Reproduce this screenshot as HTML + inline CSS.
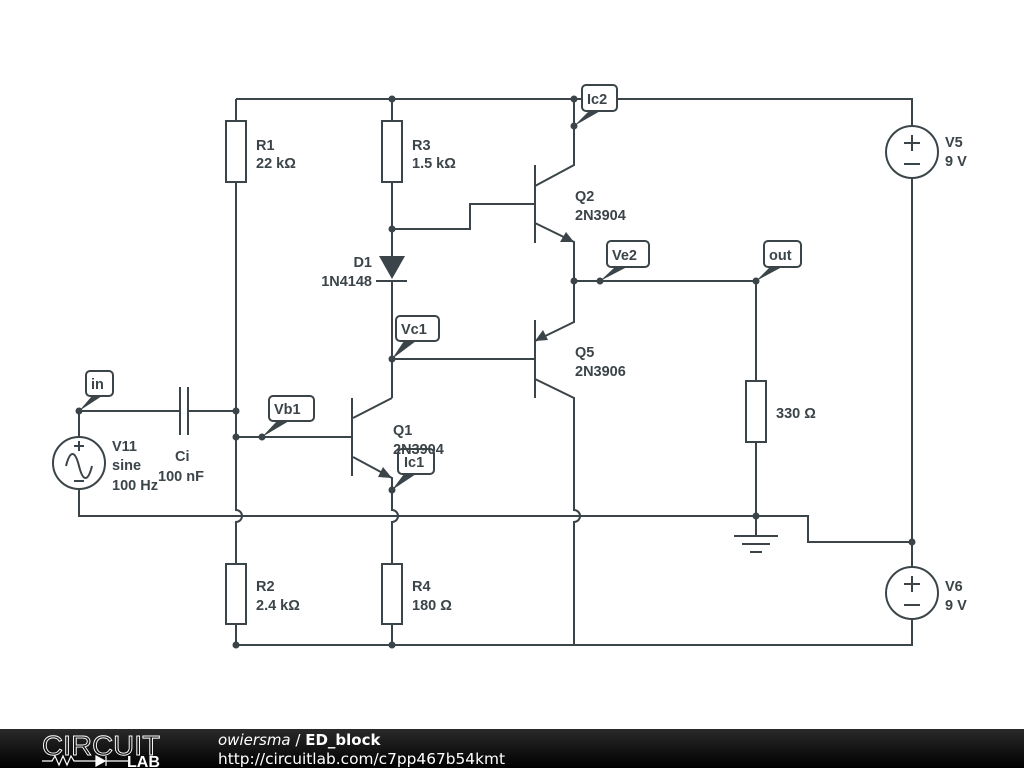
<!DOCTYPE html>
<html><head><meta charset="utf-8"><style>
body{margin:0;width:1024px;height:768px;background:#fff;overflow:hidden;font-family:"Liberation Sans",sans-serif}
svg{position:absolute;left:0;top:0}
.t{font-family:"Liberation Sans",sans-serif;font-size:14.5px;font-weight:bold;fill:#3b4448}
</style></head><body>
<svg width="1024" height="768" viewBox="0 0 1024 768">
<defs>
<linearGradient id="fg" x1="0" y1="0" x2="0" y2="1"><stop offset="0" stop-color="#2a2a2a"/><stop offset="1" stop-color="#000"/></linearGradient>
</defs>
<g stroke="#3b4448" stroke-width="2" fill="none">
<path d="M236 99H912V126M912 178V567M912 619V645H236"/>
<path d="M79 489V516H808V542H912"/>
<path d="M236 99V121M236 182V510a6 6 0 0 1 0 12V564M236 624V645"/>
<rect x="226" y="121" width="20" height="61"/>
<rect x="226" y="564" width="20" height="60"/>
<path d="M79 437V411H180M188 411H236M180 387V435M188 387V435"/>
<circle cx="79" cy="463" r="26"/>
<path d="M66 466c4-16 9-16 13 0s9 16 13 0" />
<path d="M79 441v10M74 446h10M74 481h10"/>
<path d="M236 437H352M352 398V476M353 418L392 398M353 457L392 478V510a6 6 0 0 1 0 12V564M392 624V645"/>
<rect x="382" y="564" width="20" height="60"/>
<path d="M392 99V121M392 182V256M392 281V398M376 281H407"/>
<rect x="382" y="121" width="20" height="61"/>
<path d="M392 229H470V204H535"/>
<path d="M535 165V243M535 186L574 165V99M535 223L574 242V322L535 341M392 359H535M535 320V398M535 379L574 398V510a6 6 0 0 1 0 12V645"/>
<path d="M574 281H756V381M756 442V535"/>
<rect x="746" y="381" width="20" height="61"/>
<path d="M734 536H778M742 544H770M750 552H762"/>
<circle cx="912" cy="152" r="26"/>
<circle cx="912" cy="593" r="26"/>
<path d="M904 143h16M912 135v16M904 164h16M904 584h16M912 576v16M904 605h16"/>
</g>
<g fill="#3b4448">
<path d="M379 256H405L392 279Z"/>
<path d="M574 242L560 242L566 232Z"/>
<path d="M392 478L378 477L383 467Z"/>
<path d="M535 341L543 330L548 340Z"/>
<circle cx="392" cy="99" r="3.5"/><circle cx="574" cy="99" r="3.5"/><circle cx="574" cy="126" r="3.5"/>
<circle cx="392" cy="229" r="3.5"/><circle cx="392" cy="359" r="3.5"/><circle cx="574" cy="281" r="3.5"/>
<circle cx="600" cy="281" r="3.5"/><circle cx="756" cy="281" r="3.5"/><circle cx="79" cy="411" r="3.5"/>
<circle cx="236" cy="411" r="3.5"/><circle cx="236" cy="437" r="3.5"/><circle cx="262" cy="437" r="3.5"/>
<circle cx="392" cy="490" r="3.5"/><circle cx="756" cy="516" r="3.5"/><circle cx="912" cy="542" r="3.5"/>
<circle cx="236" cy="645" r="3.5"/><circle cx="392" cy="645" r="3.5"/>
<path d="M574 126L590 110H602Z"/><path d="M79 411L92 396H102Z"/><path d="M262 437L277 421H289Z"/>
<path d="M392 359L404 341H416Z"/><path d="M392 490L404 474H416Z"/><path d="M600 281L615 267H627Z"/><path d="M756 281L770 267H782Z"/>
</g>
<g stroke="#3b4448" stroke-width="2" fill="#fff">
<rect x="582" y="85" width="35" height="26" rx="4"/>
<rect x="86" y="371" width="27" height="25" rx="4"/>
<rect x="269" y="396" width="45" height="25" rx="4"/>
<rect x="396" y="316" width="43" height="25" rx="4"/>
<rect x="398" y="449" width="36" height="25" rx="4"/>
<rect x="607" y="241" width="42" height="26" rx="4"/>
<rect x="764" y="241" width="37" height="26" rx="4"/>
</g>
<g>
<text x="587" y="104" class="t">Ic2</text>
<text x="91" y="389" class="t">in</text>
<text x="274" y="414" class="t">Vb1</text>
<text x="401" y="334" class="t">Vc1</text>
<text x="404" y="467" class="t">Ic1</text>
<text x="612" y="260" class="t">Ve2</text>
<text x="769" y="260" class="t">out</text>
<text x="256" y="150" class="t">R1</text><text x="256" y="168" class="t">22 kΩ</text>
<text x="412" y="150" class="t">R3</text><text x="412" y="168" class="t">1.5 kΩ</text>
<text x="372" y="267" class="t" text-anchor="end">D1</text><text x="372" y="286" class="t" text-anchor="end">1N4148</text>
<text x="575" y="201" class="t">Q2</text><text x="575" y="220" class="t">2N3904</text>
<text x="575" y="357" class="t">Q5</text><text x="575" y="376" class="t">2N3906</text>
<text x="393" y="435" class="t">Q1</text><text x="393" y="454" class="t">2N3904</text>
<text x="112" y="451" class="t">V11</text><text x="112" y="470" class="t">sine</text><text x="112" y="490" class="t">100 Hz</text>
<text x="175" y="461" class="t">Ci</text><text x="158" y="481" class="t">100 nF</text>
<text x="776" y="418" class="t">330 Ω</text>
<text x="256" y="591" class="t">R2</text><text x="256" y="610" class="t">2.4 kΩ</text>
<text x="412" y="591" class="t">R4</text><text x="412" y="610" class="t">180 Ω</text>
<text x="945" y="147" class="t">V5</text><text x="945" y="166" class="t">9 V</text>
<text x="945" y="591" class="t">V6</text><text x="945" y="610" class="t">9 V</text>
</g>
<rect x="0" y="729" width="1024" height="39" fill="url(#fg)"/>
<text x="42" y="755" font-family="Liberation Sans,sans-serif" font-size="28" fill="none" stroke="#fff" stroke-width="0.9" textLength="118" lengthAdjust="spacingAndGlyphs">CIRCUIT</text>
<path d="M42 761h10l3-5 4 9 4-9 4 9 4-9 3 5h24" stroke="#fff" stroke-width="1.2" fill="none"/>
<path d="M96 756v10l9-5zM106 756v10M106 761h22" fill="#fff" stroke="#fff" stroke-width="1.2"/>
<text x="127" y="767" font-family="Liberation Sans,sans-serif" font-size="16" font-weight="bold" fill="#fff" textLength="33" lengthAdjust="spacingAndGlyphs">LAB</text>
<text x="218" y="745" font-family="DejaVu Sans,sans-serif" font-size="15" fill="#fff"><tspan font-style="italic">owiersma</tspan> / <tspan font-weight="bold">ED_block</tspan></text>
<text x="218" y="764" font-family="DejaVu Sans,sans-serif" font-size="15" fill="#fff" textLength="287" lengthAdjust="spacingAndGlyphs">http://circuitlab.com/c7pp467b54kmt</text>
</svg>
</body></html>
